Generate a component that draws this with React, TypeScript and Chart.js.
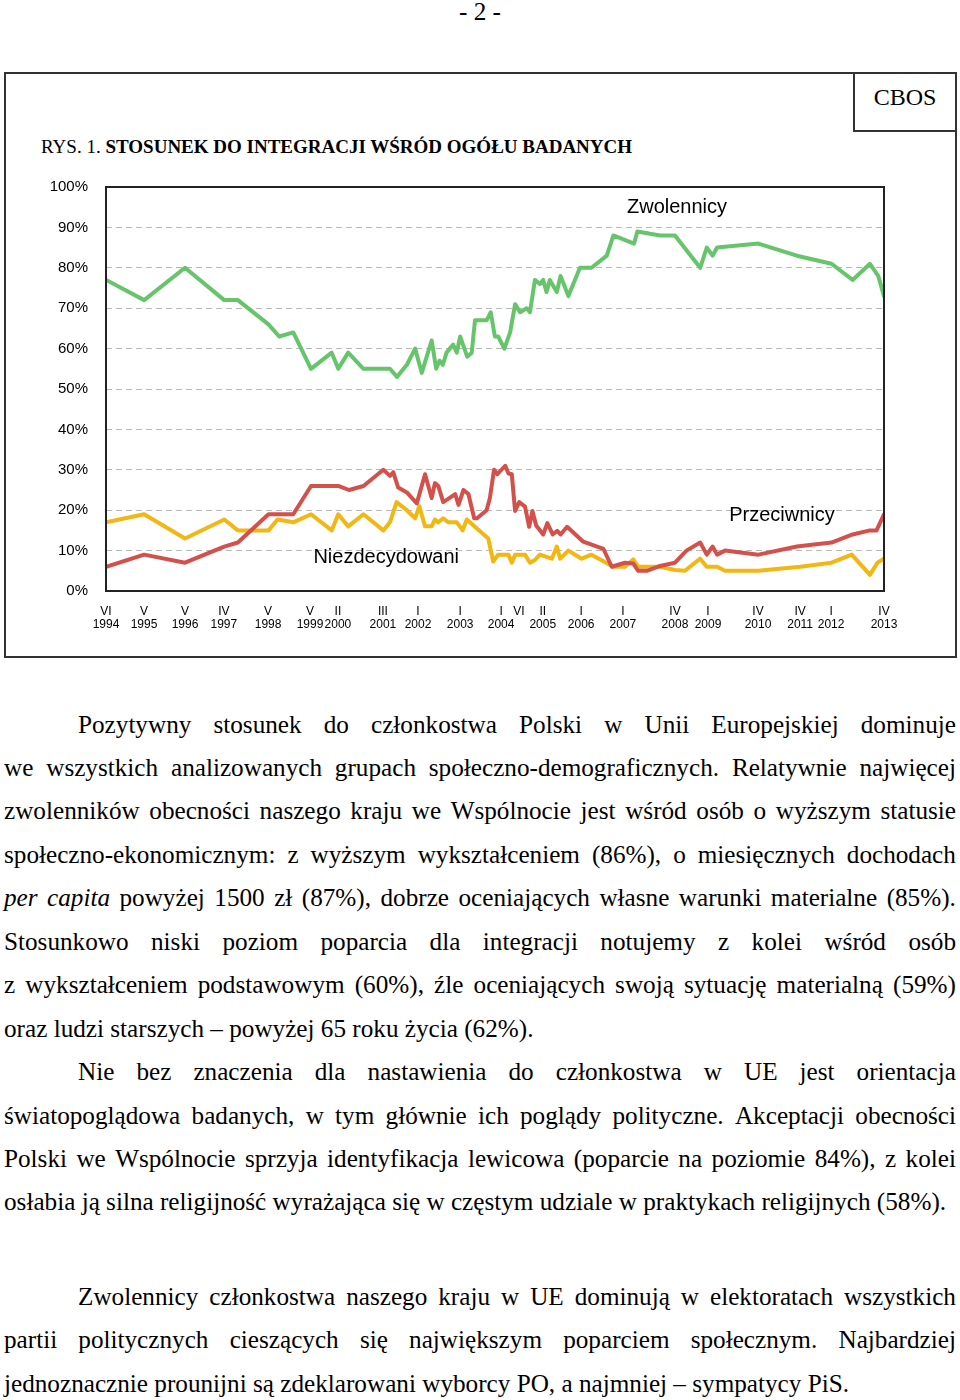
import React, { useEffect, useRef } from "react";
import { Chart, registerables } from "chart.js";

Chart.register(...registerables);

const SANS = '"Liberation Sans", Arial, Helvetica, sans-serif';
const SERIF = '"Liberation Serif", "Times New Roman", Times, serif';

// x axis: survey dates as decimal years
const xTickValues = [1994.417, 1995.337, 1996.33, 1997.27, 1998.34, 1999.355, 2000.03, 2001.12, 2001.97, 2002.99, 2003.98, 2004.41, 2004.99, 2005.92, 2006.93, 2008.19, 2008.99, 2010.2, 2011.22, 2011.97, 2013.25];
const xTickRoman = ["VI", "V", "V", "IV", "V", "V", "II", "III", "I", "I", "I", "VI", "II", "I", "I", "IV", "I", "IV", "IV", "I", "IV"];
const xTickYears = ["1994", "1995", "1996", "1997", "1998", "1999", "2000", "2001", "2002", "2003", "2004", "", "2005", "2006", "2007", "2008", "2009", "2010", "2011", "2012", "2013"];

// Zwolennicy (green)
const supportDates = [1994.42, 1995.34, 1996.33, 1997.28, 1997.61, 1998.35, 1998.61, 1998.95, 1999.38, 1999.88, 2000.04, 2000.28, 2000.65, 2001.29, 2001.46, 2001.7, 2001.9, 2002.06, 2002.3, 2002.41, 2002.49, 2002.57, 2002.66, 2002.82, 2002.91, 2002.99, 2003.16, 2003.27, 2003.35, 2003.63, 2003.73, 2003.83, 2003.91, 2004.06, 2004.2, 2004.32, 2004.44, 2004.6, 2004.68, 2004.8, 2004.92, 2005.0, 2005.08, 2005.16, 2005.33, 2005.42, 2005.61, 2005.89, 2006.17, 2006.54, 2006.7, 2007.2, 2007.28, 2007.83, 2008.19, 2008.8, 2008.96, 2009.1, 2009.21, 2010.21, 2011.14, 2011.98, 2012.49, 2012.91, 2013.11, 2013.25];
const supportValues = [77, 72, 80, 72, 72, 66, 63, 64, 55, 59, 55, 59, 55, 55, 53, 56, 60, 54, 62, 55, 57, 56, 59, 61, 59, 63, 58, 59, 67, 67, 69, 63, 63, 60, 64, 71, 69, 70, 69, 77, 76, 77, 74, 77, 74, 78, 73, 80, 80, 83, 88, 86, 89, 88, 88, 80, 85, 83, 85, 86, 83, 81, 77, 81, 78, 73];

// Przeciwnicy (red)
const againstDates = [1994.42, 1995.34, 1996.33, 1997.28, 1997.61, 1998.35, 1998.95, 1999.38, 2000.04, 2000.3, 2000.65, 2001.13, 2001.29, 2001.37, 2001.49, 2001.7, 2001.94, 2002.14, 2002.3, 2002.38, 2002.46, 2002.58, 2002.7, 2002.87, 2002.95, 2003.07, 2003.19, 2003.33, 2003.4, 2003.63, 2003.71, 2003.81, 2003.89, 2004.08, 2004.16, 2004.24, 2004.32, 2004.42, 2004.56, 2004.66, 2004.74, 2004.83, 2005.0, 2005.1, 2005.23, 2005.34, 2005.42, 2005.58, 2005.97, 2006.46, 2006.66, 2006.98, 2007.18, 2007.3, 2007.51, 2007.83, 2008.19, 2008.47, 2008.8, 2008.96, 2009.1, 2009.21, 2009.4, 2010.21, 2011.14, 2011.98, 2012.49, 2012.91, 2013.07, 2013.25];
const againstValues = [6, 9, 7, 11, 12, 19, 19, 26, 26, 25, 26, 30, 28.5, 29.4, 25.6, 24.4, 21.7, 28.9, 23, 26.7, 26, 22, 22.8, 24, 21.3, 25, 24, 18, 18, 20, 23, 30, 28.9, 31, 29.1, 28.9, 19.8, 22, 20.9, 15.9, 19.8, 16.2, 14, 16.8, 14, 14.9, 14, 15.9, 12.2, 10.4, 6, 7, 6.8, 5, 5, 6.2, 7, 10, 12, 9, 11, 9, 10, 9, 11, 12, 14, 15, 15, 19];

// Niezdecydowani (yellow)
const undecidedDates = [1994.42, 1995.34, 1996.33, 1997.28, 1997.61, 1998.35, 1998.57, 1998.95, 1999.38, 1999.88, 2000.04, 2000.28, 2000.65, 2001.13, 2001.29, 2001.45, 2001.7, 2001.9, 2002.0, 2002.14, 2002.3, 2002.38, 2002.46, 2002.58, 2002.7, 2002.91, 2003.05, 2003.15, 2003.67, 2003.79, 2003.91, 2004.16, 2004.24, 2004.32, 2004.56, 2004.68, 2004.8, 2004.92, 2005.21, 2005.33, 2005.41, 2005.61, 2005.93, 2006.17, 2006.7, 2006.98, 2007.18, 2007.3, 2007.83, 2008.19, 2008.43, 2008.8, 2008.96, 2009.21, 2009.4, 2010.21, 2011.22, 2011.98, 2012.47, 2012.91, 2013.09, 2013.25];
const undecidedValues = [17, 19, 13, 17.7, 15, 15, 17.7, 17, 19, 15, 19, 16, 19, 15, 17, 22, 20, 18, 21, 16, 16, 17.7, 17, 18, 17, 17, 15, 17.7, 13, 7.3, 9, 9, 7, 9, 9, 7, 7.7, 9, 8, 11, 8, 10, 8, 9, 6, 6, 7.8, 6, 6, 5.2, 5, 8, 6, 6, 5, 5, 6, 7, 9, 4, 7, 8];

const seriesNames = ["Zwolennicy", "Przeciwnicy", "Niezdecydowani"];
const seriesColors = ["#66c46b", "#d4504a", "#f2b713"];
const labelDates = [2008.24, 2010.78, 2001.2];
const labelValues = [95, 18.8, 8.4];

const bodyLines = [
  { text: "Pozytywny stosunek do członkostwa Polski w Unii Europejskiej dominuje", y: 725, indent: true, justify: true, italic: 0 },
  { text: "we wszystkich analizowanych grupach społeczno-demograficznych. Relatywnie najwięcej", y: 768, indent: false, justify: true, italic: 0 },
  { text: "zwolenników obecności naszego kraju we Wspólnocie jest wśród osób o wyższym statusie", y: 811, indent: false, justify: true, italic: 0 },
  { text: "społeczno-ekonomicznym: z wyższym wykształceniem (86%), o miesięcznych dochodach", y: 855, indent: false, justify: true, italic: 0 },
  { text: "per capita powyżej 1500 zł (87%), dobrze oceniających własne warunki materialne (85%).", y: 898, indent: false, justify: true, italic: 2 },
  { text: "Stosunkowo niski poziom poparcia dla integracji notujemy z kolei wśród osób", y: 942, indent: false, justify: true, italic: 0 },
  { text: "z wykształceniem podstawowym (60%), źle oceniających swoją sytuację materialną (59%)", y: 985, indent: false, justify: true, italic: 0 },
  { text: "oraz ludzi starszych – powyżej 65 roku życia (62%).", y: 1029, indent: false, justify: false, italic: 0 },
  { text: "Nie bez znaczenia dla nastawienia do członkostwa w UE jest orientacja", y: 1072, indent: true, justify: true, italic: 0 },
  { text: "światopoglądowa badanych, w tym głównie ich poglądy polityczne. Akceptacji obecności", y: 1116, indent: false, justify: true, italic: 0 },
  { text: "Polski we Wspólnocie sprzyja identyfikacja lewicowa (poparcie na poziomie 84%), z kolei", y: 1159, indent: false, justify: true, italic: 0 },
  { text: "osłabia ją silna religijność wyrażająca się w częstym udziale w praktykach religijnych (58%).", y: 1202, indent: false, justify: false, italic: 0 },
  { text: "Zwolennicy członkostwa naszego kraju w UE dominują w elektoratach wszystkich", y: 1297, indent: true, justify: true, italic: 0 },
  { text: "partii politycznych cieszących się największym poparciem społecznym. Najbardziej", y: 1340, indent: false, justify: true, italic: 0 },
  { text: "jednoznacznie prounijni są zdeklarowani wyborcy PO, a najmniej – sympatycy PiS.", y: 1384, indent: false, justify: false, italic: 0 },
];

const BODY_FONT = 25.2;

const overlayPlugin = {
  id: "overlay",
  afterDatasetsDraw(chart: any) {
    const { ctx, chartArea: a } = chart;
    const xs = chart.scales.x;
    const ys = chart.scales.y;
    ctx.save();
    ctx.lineWidth = 2;
    ctx.strokeStyle = "#222";
    ctx.strokeRect(a.left, a.top, a.right - a.left, a.bottom - a.top);
    ctx.font = `20px ${SANS}`;
    ctx.fillStyle = "#000";
    ctx.textAlign = "center";
    ctx.textBaseline = "middle";
    seriesNames.forEach((n, i) => {
      ctx.fillText(n, xs.getPixelForValue(labelDates[i]), ys.getPixelForValue(labelValues[i]));
    });
    ctx.restore();
  },
};

function ChartCanvas() {
  const ref = useRef<HTMLCanvasElement | null>(null);
  useEffect(() => {
    if (!ref.current) return;
    const mk = (d: number[], v: number[]) => d.map((x, i) => ({ x, y: v[i] }));
    const chart = new Chart(ref.current, {
      type: "line",
      data: {
        datasets: [
          { label: seriesNames[1], data: mk(againstDates, againstValues), borderColor: seriesColors[1] },
          { label: seriesNames[2], data: mk(undecidedDates, undecidedValues), borderColor: seriesColors[2] },
          { label: seriesNames[0], data: mk(supportDates, supportValues), borderColor: seriesColors[0] },
        ].map((ds) => ({ ...ds, borderWidth: 4, pointRadius: 0, tension: 0, fill: false, borderJoinStyle: "round" as const, borderCapStyle: "round" as const })),
      },
      options: {
        animation: false,
        responsive: false,
        maintainAspectRatio: false,
        layout: { padding: { left: 0, right: 76, top: 17, bottom: 0 } },
        plugins: { legend: { display: false }, tooltip: { enabled: false } },
        scales: {
          x: {
            type: "linear",
            min: xTickValues[0],
            max: xTickValues[xTickValues.length - 1],
            grid: { display: false, drawTicks: false },
            border: { display: false },
            afterBuildTicks: (s: any) => {
              s.ticks = xTickValues.map((v) => ({ value: v }));
            },
            afterFit: (s: any) => {
              s.height = 59;
              s.paddingLeft = 0;
              s.paddingRight = 0;
            },
            ticks: {
              autoSkip: false,
              maxRotation: 0,
              minRotation: 0,
              padding: 14,
              color: "#000",
              font: { family: SANS, size: 12, lineHeight: 1.1 },
              callback: (_v: any, i: number) => [xTickRoman[i], xTickYears[i]],
            },
          },
          y: {
            min: 0,
            max: 100,
            grid: {
              drawTicks: false,
              color: (c: any) => (c.tick && (c.tick.value === 0 || c.tick.value === 100) ? "rgba(0,0,0,0)" : "#b8b8b8"),
              lineWidth: 1,
            },
            border: { display: false, dash: [6, 4] },
            afterFit: (s: any) => {
              s.width = 106;
              s.paddingTop = 0;
              s.paddingBottom = 0;
            },
            ticks: {
              stepSize: 10,
              padding: 18,
              color: "#000",
              font: { family: SANS, size: 15 },
              callback: (v: any) => `${v}%`,
            },
          },
        },
      },
      plugins: [overlayPlugin],
    } as any);
    return () => chart.destroy();
  }, []);
  return (
    <canvas
      ref={ref}
      width={960}
      height={480}
      style={{ position: "absolute", left: 0, top: 170, width: 960, height: 480, display: "block" }}
    />
  );
}

function BodyLine({ line }: { line: (typeof bodyLines)[number] }) {
  const left = line.indent ? 78 : 4;
  const words = line.text.split(" ");
  const base: React.CSSProperties = {
    position: "absolute",
    left,
    top: line.y - 22,
    height: 44,
    lineHeight: "44px",
    fontFamily: SERIF,
    fontSize: BODY_FONT,
    color: "#000",
    whiteSpace: "nowrap",
  };
  if (!line.justify) {
    return <div style={base}>{line.text}</div>;
  }
  return (
    <div style={{ ...base, width: 956 - left, display: "flex", justifyContent: "space-between", columnGap: 4 }}>
      {words.map((w, i) => (
        <span key={i} style={i < line.italic ? { fontStyle: "italic" } : undefined}>
          {w}
        </span>
      ))}
    </div>
  );
}

export default function App() {
  useEffect(() => {
    document.body.style.background = "#fff";
  }, []);
  return (
    <div style={{ position: "absolute", left: 0, top: 0, width: 960, height: 1400, background: "#fff", overflow: "hidden" }}>
      <div
        style={{
          position: "absolute",
          left: 0,
          top: -10,
          width: 960,
          textAlign: "center",
          fontFamily: SERIF,
          fontSize: BODY_FONT,
          lineHeight: "44px",
          color: "#000",
        }}
      >
        - 2 -
      </div>
      <div style={{ position: "absolute", left: 4, top: 72, width: 953, height: 586, border: "2px solid #333", boxSizing: "border-box" }} />
      <div
        style={{
          position: "absolute",
          left: 853,
          top: 72,
          width: 104,
          height: 60,
          border: "2px solid #333",
          boxSizing: "border-box",
          display: "flex",
          alignItems: "center",
          justifyContent: "center",
          paddingBottom: 10,
          fontFamily: SERIF,
          fontSize: 24,
          color: "#000",
        }}
      >
        CBOS
      </div>
      <div
        style={{
          position: "absolute",
          left: 41,
          top: 132,
          lineHeight: "30px",
          fontFamily: SERIF,
          fontSize: 19,
          color: "#000",
          whiteSpace: "nowrap",
        }}
      >
        RYS. 1. <b>STOSUNEK DO INTEGRACJI WŚRÓD OGÓŁU BADANYCH</b>
      </div>
      <ChartCanvas />
      {bodyLines.map((l, i) => (
        <BodyLine key={i} line={l} />
      ))}
    </div>
  );
}
